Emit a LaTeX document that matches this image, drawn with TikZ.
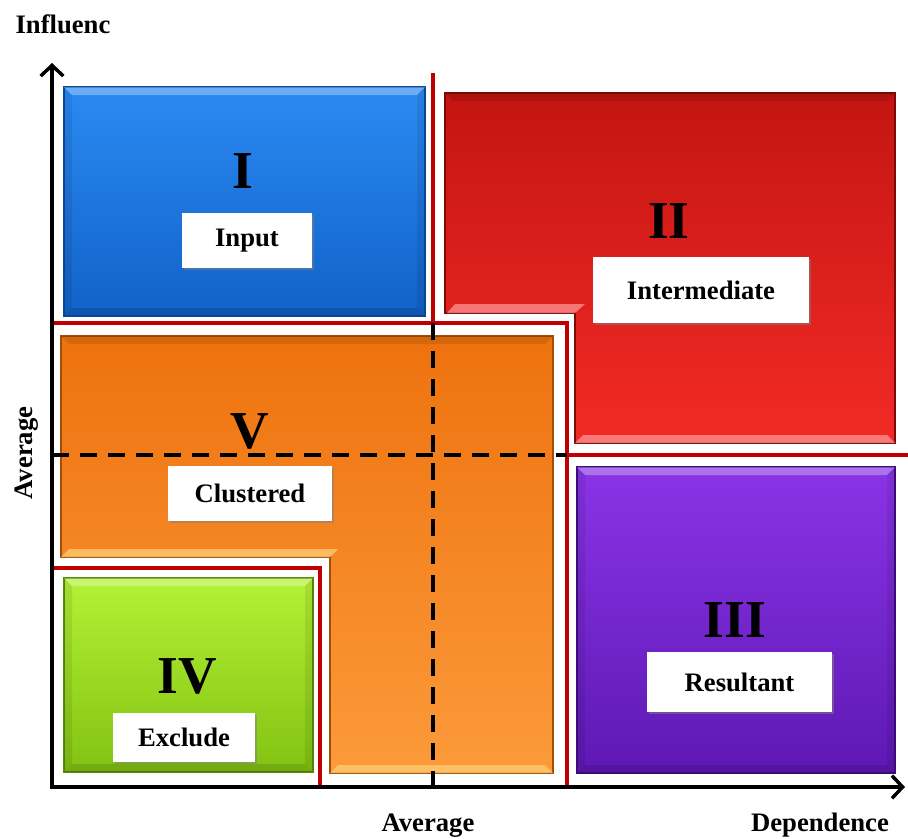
\documentclass[tikz,border=0pt]{standalone}
\usepackage{fontspec}
\setmainfont{Liberation Serif}
\usetikzlibrary{arrows.meta,shadows}
\definecolor{blueT}{HTML}{2B8AF3}
\definecolor{blueB}{HTML}{1162C8}
\definecolor{blueE}{HTML}{0B4A9E}
\definecolor{redT}{HTML}{C41511}
\definecolor{redB}{HTML}{F22A26}
\definecolor{redE}{HTML}{7E0A08}
\definecolor{redH}{HTML}{FF9A9A}
\definecolor{orT}{HTML}{EE720E}
\definecolor{orB}{HTML}{FC9A3A}
\definecolor{orE}{HTML}{A04E08}
\definecolor{orH}{HTML}{FFC970}
\definecolor{grT}{HTML}{B4F236}
\definecolor{grB}{HTML}{82C212}
\definecolor{grE}{HTML}{5A8A0A}
\definecolor{puT}{HTML}{8A34E6}
\definecolor{puB}{HTML}{5E18B4}
\definecolor{puE}{HTML}{3E0C80}
\definecolor{lineRed}{HTML}{C00000}
\newcommand{\bevrect}[7]{%
  \shade[top color=#5, bottom color=#6, draw=#7, line width=1pt] (#1,#2) rectangle (#3,#4);
  \fill[white, opacity=0.3] (#1,#2) -- (#3,#2) -- (#3-8,#2+8) -- (#1+8,#2+8) -- cycle;
  \fill[black, opacity=0.12] (#1,#4) -- (#3,#4) -- (#3-8,#4-8) -- (#1+8,#4-8) -- cycle;
  \fill[black, opacity=0.08] (#1,#2) -- (#1+8,#2+8) -- (#1+8,#4-8) -- (#1,#4) -- cycle;
  \fill[black, opacity=0.08] (#3,#2) -- (#3-8,#2+8) -- (#3-8,#4-8) -- (#3,#4) -- cycle;
}
\begin{document}
\begin{tikzpicture}[x=0.75pt,y=-0.75pt,
  lbl/.style={font=\fontsize{20}{22}\selectfont\bfseries, inner sep=0pt},
  numeral/.style={font=\fontsize{40}{42}\selectfont\bfseries, inner sep=0pt, anchor=base},
  tag/.style={fill=white, inner sep=0pt, font=\fontsize{20}{22}\selectfont\bfseries,
    drop shadow={opacity=0.5, shadow xshift=1.3pt, shadow yshift=-1.3pt}},
  redline/.style={draw=lineRed, line width=3pt},
  avgline/.style={draw=black, line width=2.3pt, dash pattern=on 13pt off 8pt},
  axis/.style={draw=black, line width=3pt, line join=miter,
    {Straight Barb[length=8pt,width=17pt,line width=2.6pt]}-{Straight Barb[length=8pt,width=17pt,line width=2.6pt]}},
]
\useasboundingbox (0,0) rectangle (908,839);
\fill[white] (0,0) rectangle (908,839);

% key points
\coordinate (yTop) at (52,63);
\coordinate (O) at (52,787);
\coordinate (xEnd) at (905,787);

% ---- Blue box I
\bevrect{64}{87}{425}{316}{blueT}{blueB}{blueE}

% ---- Red box II (L-shape)
\shade[top color=redT, bottom color=redB, draw=redE, line width=1pt]
  (445,93) -- (895,93) -- (895,443) -- (575,443) -- (575,313) -- (445,313) -- cycle;
\fill[redH, opacity=0.7] (447,313) -- (575,313) -- (585,304) -- (455,304) -- cycle;
\fill[redH, opacity=0.7] (575,443) -- (895,443) -- (887,435) -- (583,435) -- cycle;
\fill[black, opacity=0.1] (445,93) -- (895,93) -- (887,101) -- (453,101) -- cycle;

% ---- Orange box V (L-shape)
\shade[top color=orT, bottom color=orB, draw=orE, line width=1pt]
  (61,336) -- (553,336) -- (553,773) -- (330,773) -- (330,557) -- (61,557) -- cycle;
\fill[orH, opacity=0.8] (61,557) -- (330,557) -- (338,549) -- (69,549) -- cycle;
\fill[orH, opacity=0.8] (330,773) -- (553,773) -- (545,765) -- (338,765) -- cycle;
\fill[black, opacity=0.1] (61,336) -- (553,336) -- (545,344) -- (69,344) -- cycle;

% ---- Green box IV
\bevrect{64}{578}{313}{772}{grT}{grB}{grE}

% ---- Purple box III
\bevrect{577}{467}{895}{773}{puT}{puB}{puE}

% ---- Red separator lines
\coordinate (r1a) at (433,73);
\coordinate (r1b) at (433,323);
\coordinate (r2a) at (52,323);
\coordinate (r2b) at (567,323);
\coordinate (r2c) at (567,787);
\coordinate (r3a) at (567,455);
\coordinate (r3b) at (908,455);
\coordinate (r4a) at (52,568);
\coordinate (r4b) at (320,568);
\coordinate (r4c) at (320,787);
\draw[redline] (r1a) -- (r1b);
\draw[redline] (r2a) -- (r2b) -- (r2c);
\draw[redline] (r3a) -- (r3b);
\draw[redline] (r4a) -- (r4b) -- (r4c);

% ---- Dashed average lines
\coordinate (dHa) at (52,455);
\coordinate (dHb) at (567,455);
\coordinate (dVa) at (433,323);
\coordinate (dVb) at (433,787);
\draw[avgline] (dHa) -- (dHb);
\draw[avgline] (dVa) -- (dVb);

% ---- Axes
\draw[axis] (yTop) -- (O) -- (xEnd);

% ---- Numerals
\node[numeral] (nI) at (243,188) {I};
\node[numeral] (nII) at (669,238) {II};
\node[numeral] (nIII) at (735,637) {III};
\node[numeral] (nIV) at (187,693) {IV};
\node[numeral] (nV) at (250,448) {V};

% ---- Tags
\node[tag, minimum width=97.5pt, minimum height=41.25pt] (tInput) at (247,240.5) {Input};
\node[tag, minimum width=162pt, minimum height=49.5pt] (tInter) at (701,290) {Intermediate};
\node[tag, minimum width=123pt, minimum height=41.25pt] (tClust) at (250,493.5) {Clustered};
\node[tag, minimum width=106.5pt, minimum height=36.75pt] (tExcl) at (184,737.5) {Exclude};
\node[tag, minimum width=138.75pt, minimum height=45pt] (tRes) at (739.5,682) {Resultant};

% ---- Axis labels
\node[lbl, anchor=base] (lInf) at (63,33) {Influenc};
\node[lbl, rotate=90] (lAvgY) at (27,453) {Average};
\node[lbl, anchor=base] (lAvgX) at (428,831) {Average};
\node[lbl, anchor=base] (lDep) at (820,831) {Dependence};
\end{tikzpicture}
\end{document}
